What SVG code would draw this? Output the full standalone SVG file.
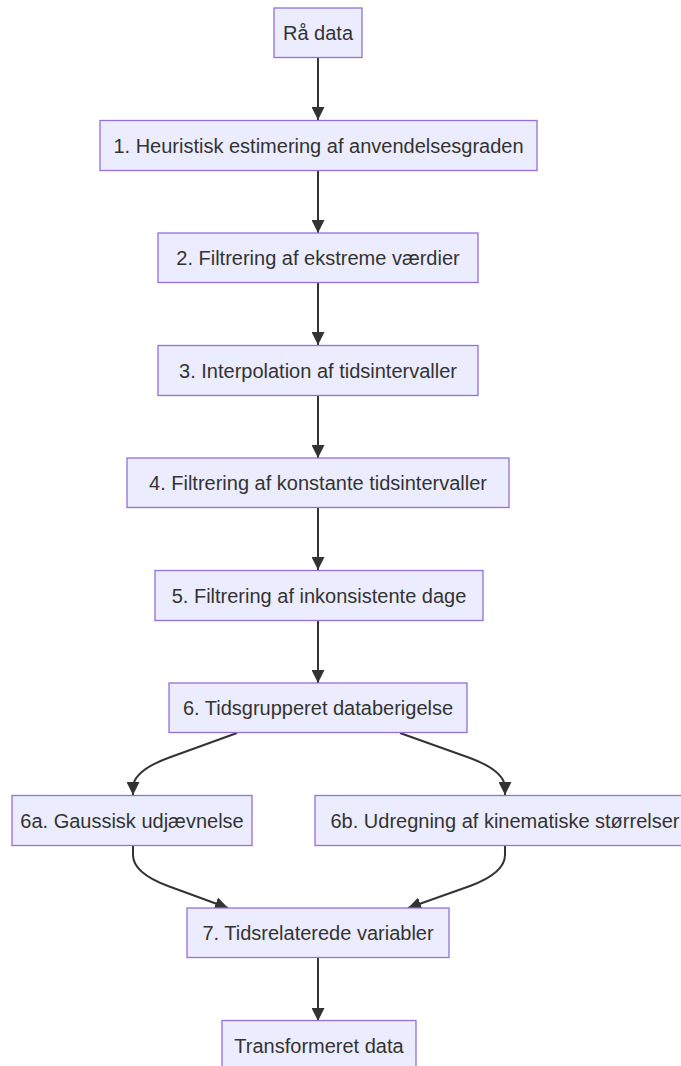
<svg xmlns="http://www.w3.org/2000/svg" width="681" height="1066" viewBox="0 0 681 1066">
<style>
.node rect{fill:#ECECFF;stroke:#9370DB;stroke-width:1.3}
.node text{font-family:"Liberation Sans",Arial,sans-serif;font-size:20px;fill:#333;text-anchor:middle}
.edge{fill:none;stroke:#333;stroke-width:2}
</style>
<defs>
<marker id="arr" viewBox="0 0 10 10" refX="10" refY="5" markerUnits="userSpaceOnUse" markerWidth="13" markerHeight="13" orient="auto">
<path d="M0,0 L10,5 L0,10 z" fill="#333"/>
</marker>
</defs>
<rect width="681" height="1066" fill="#fff"/>
<g id="connectors">
<path class="edge" marker-end="url(#arr)" d="M318,58 L318,120"/>
<path class="edge" marker-end="url(#arr)" d="M318,171 L318,233"/>
<path class="edge" marker-end="url(#arr)" d="M318,283 L318,345"/>
<path class="edge" marker-end="url(#arr)" d="M318,396 L318,458"/>
<path class="edge" marker-end="url(#arr)" d="M318,508 L318,570"/>
<path class="edge" marker-end="url(#arr)" d="M318,621 L318,683"/>
<path class="edge" marker-end="url(#arr)" d="M237,733 L168,758 Q133,771 133,788 L133,795"/>
<path class="edge" marker-end="url(#arr)" d="M400,733 L470,758 Q505,771 505,788 L505,795"/>
<path class="edge" marker-end="url(#arr)" d="M133,846 L133,855 Q133,873 168,886 L228,908"/>
<path class="edge" marker-end="url(#arr)" d="M505,846 L505,855 Q505,873 470,886 L408,908"/>
<path class="edge" marker-end="url(#arr)" d="M318,958 L318,1021"/>
</g>
<g id="n0" class="node"><rect x="274" y="8" width="88" height="49.5"/><text x="318" y="40">Rå data</text></g>
<g id="n1" class="node"><rect x="100" y="120.5" width="437" height="50"/><text x="318.5" y="152.5">1. Heuristisk estimering af anvendelsesgraden</text></g>
<g id="n2" class="node"><rect x="158" y="233" width="320" height="49.5"/><text x="318" y="265">2. Filtrering af ekstreme værdier</text></g>
<g id="n3" class="node"><rect x="158" y="345.5" width="320" height="50"/><text x="318" y="377.5">3. Interpolation af tidsintervaller</text></g>
<g id="n4" class="node"><rect x="127" y="458" width="382" height="49.5"/><text x="318" y="490">4. Filtrering af konstante tidsintervaller</text></g>
<g id="n5" class="node"><rect x="155" y="570.5" width="328" height="50"/><text x="319" y="602.5">5. Filtrering af inkonsistente dage</text></g>
<g id="n6" class="node"><rect x="169" y="683" width="298" height="49.5"/><text x="318" y="715">6. Tidsgrupperet databerigelse</text></g>
<g id="n6a" class="node"><rect x="12" y="795.5" width="240" height="50"/><text x="132" y="827.5">6a. Gaussisk udjævnelse</text></g>
<g id="n6b" class="node"><rect x="315" y="795.5" width="380" height="50"/><text x="505" y="827.5">6b. Udregning af kinematiske størrelser</text></g>
<g id="n7" class="node"><rect x="187" y="908" width="262" height="49.5"/><text x="318" y="940">7. Tidsrelaterede variabler</text></g>
<g id="n8" class="node"><rect x="222" y="1020.5" width="194" height="50"/><text x="319" y="1052.5">Transformeret data</text></g>
</svg>
